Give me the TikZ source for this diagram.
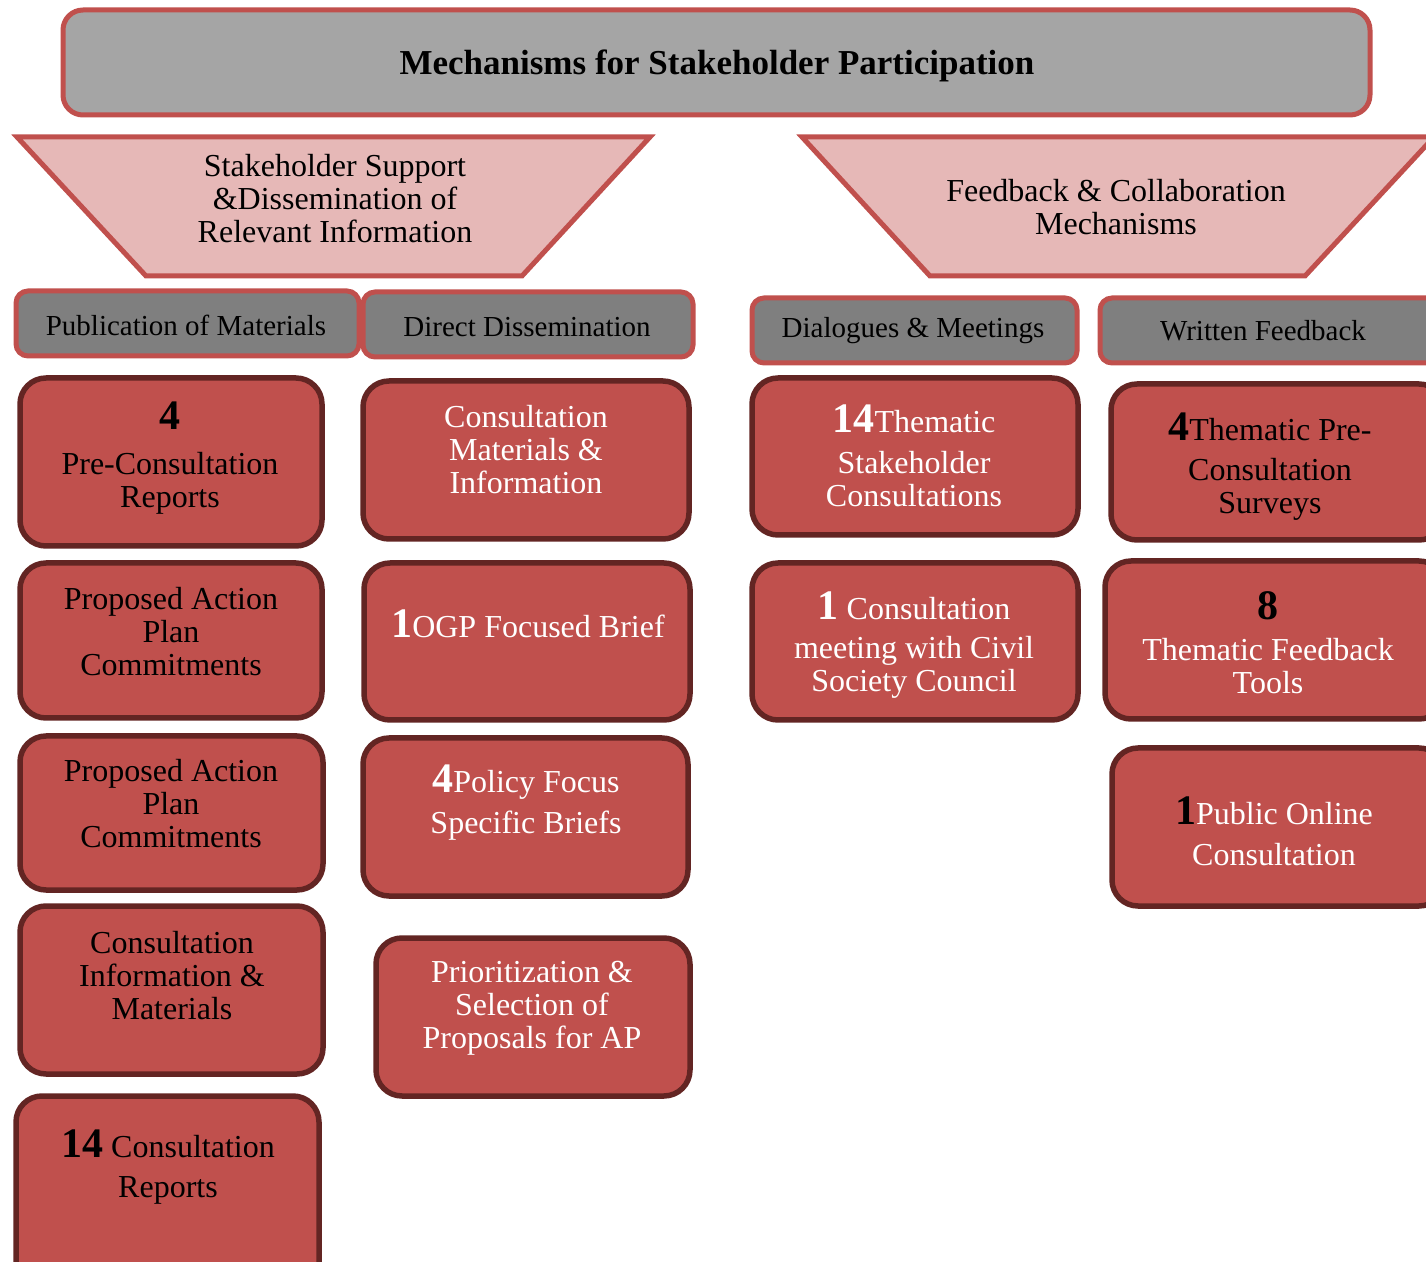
\documentclass[tikz,border=0pt]{standalone}
\usepackage{fontspec}
\setmainfont{Liberation Serif}
\definecolor{hdred}{HTML}{C0504D}
\definecolor{darkred}{HTML}{632523}
\definecolor{topgray}{HTML}{A5A5A5}
\definecolor{headgray}{HTML}{7F7F7F}
\definecolor{pinkfill}{HTML}{E6B8B7}
\newcommand\numb[1]{{\fontsize{21}{21}\selectfont\bfseries #1}}

\begin{document}
\begin{tikzpicture}[x=0.5pt, y=-0.5pt,
  every node/.style={align=center, font=\fontsize{16}{16.5}\selectfont},
  topbox/.style={draw=hdred, fill=topgray, line width=2.5pt, rounded corners=10pt},
  funnel/.style={draw=hdred, fill=pinkfill, line width=2.5pt},
  headbox/.style={draw=hdred, fill=headgray, line width=2.5pt, rounded corners=6pt},
  itembox/.style={draw=darkred, fill=hdred, line width=2.75pt, rounded corners=13pt},
  headtxt/.style={font=\fontsize{14.5}{16}\selectfont},
  wtxt/.style={text=white}]
  \useasboundingbox (0,0) rectangle (1426,1262);
  \clip (0,0) rectangle (1426,1262);

  % top banner
  \draw [topbox] (63,10) rectangle (1370,115);
  \node (title) at (717,66) {\fontsize{17.5}{18}\selectfont\bfseries Mechanisms for Stakeholder Participation};

  % the two funnels
  \draw [funnel] (17,137) -- (650,137) -- (522,276) -- (146,276) -- cycle;
  \node (stake) at (335,199) {Stakeholder Support\\\&Dissemination of\\Relevant Information};
  \draw [funnel] (802,137) -- (1434,137) -- (1305,276) -- (930,276) -- cycle;
  \node (feedback) at (1116,207) {Feedback \& Collaboration\\Mechanisms};

  % column heads
  \draw [headbox] (16,291) rectangle (359,356);
  \node [headtxt] (pub) at (186,325) {Publication of Materials};
  \draw [headbox] (363,292) rectangle (693,357);
  \node [headtxt] (direct) at (527,327) {Direct Dissemination};
  \draw [headbox] (752,298) rectangle (1077,363);
  \node [headtxt] (dialog) at (913,331) {Dialogues \& Meetings};
  \draw [headbox] (1100,298) rectangle (1440,363);
  \node [headtxt] (written) at (1263,331) {Written Feedback};

  % publication of materials
  \draw [itembox] (20,378) rectangle (322,546);
  \node (prerep) at (170,458) {\numb{4}\\[6pt]Pre-Consultation\\Reports};
  \draw [itembox] (20,563) rectangle (322,718);
  \node (pacom) at (171,632) {Proposed Action\\Plan\\Commitments};
  \draw [itembox] (20,736) rectangle (323,890);
  \node (pacomb) at (171,804) {Proposed Action\\Plan\\Commitments};
  \draw [itembox] (20,906) rectangle (323,1074);
  \node (coninfo) at (172,976) {Consultation\\Information \&\\Materials};
  \draw [itembox] (16,1096) rectangle (319,1290);
  \node (conrep) at (168,1167) {\numb{14} Consultation\\[3.5pt]Reports};

  % direct dissemination
  \draw [itembox] (363,381) rectangle (689,539);
  \node [wtxt] (conmat) at (526,450) {Consultation\\Materials \&\\Information};
  \draw [itembox] (364,563) rectangle (690,720);
  \node [wtxt] (ogp) at (528,624) {\numb{1}OGP Focused Brief};
  \draw [itembox] (363,738) rectangle (688,896);
  \node [wtxt] (policy) at (526,803) {\numb{4}Policy Focus\\[4pt]Specific Briefs};
  \draw [itembox] (376,938) rectangle (690,1096);
  \node [wtxt] (prior) at (532,1008) {Prioritization \&\\Selection of\\Proposals for AP};

  % dialogues and meetings
  \draw [itembox] (752,378) rectangle (1078,535);
  \node [wtxt] (thematic) at (914,456) {\numb{14}Thematic\\[4pt]Stakeholder\\Consultations};
  \draw [itembox] (752,563) rectangle (1078,720);
  \node [wtxt] (civil) at (914,645) {\numb{1} Consultation\\[3pt]meeting with Civil\\Society Council};

  % written feedback
  \draw [itembox] (1111,384) rectangle (1445,540);
  \node (survey) at (1270,467) {\numb{4}Thematic Pre-\\[3.5pt]Consultation\\Surveys};
  \draw [itembox] (1105,561) rectangle (1445,719);
  \node [wtxt] (tools) at (1268,643) {\textcolor{black}{\numb{8}}\\[4pt]Thematic Feedback\\Tools};
  \draw [itembox] (1112,748) rectangle (1445,906);
  \node [wtxt] (online) at (1274,831) {\textcolor{black}{\numb{1}}Public Online\\[4pt]Consultation};
\end{tikzpicture}
\end{document}
